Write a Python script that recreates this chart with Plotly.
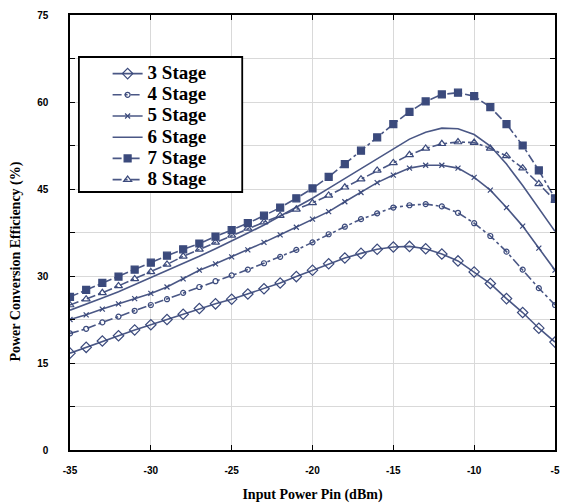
import plotly.graph_objects as go

pin = list(range(-35, -4))

stage3 = [16.7, 17.7, 18.8, 19.7, 20.7, 21.6, 22.5, 23.4, 24.4, 25.2, 26.0, 26.9, 27.8, 28.8, 29.9, 31.0,
          32.1, 33.1, 33.9, 34.6, 35.0, 35.1, 34.7, 33.8, 32.6, 30.7, 28.7, 26.1, 23.7, 21.0, 18.6]
stage4 = [20.1, 20.9, 22.0, 23.0, 24.0, 25.0, 26.0, 27.1, 28.1, 29.1, 30.1, 31.1, 32.2, 33.3, 34.5, 35.8,
          37.2, 38.5, 39.8, 40.8, 41.8, 42.2, 42.4, 42.0, 40.9, 39.1, 36.9, 34.2, 31.1, 27.9, 25.0]
stage5 = [22.5, 23.3, 24.3, 25.2, 26.1, 27.0, 28.1, 29.5, 31.0, 32.1, 33.3, 34.5, 35.8, 37.1, 38.4, 39.8,
          41.1, 42.8, 44.4, 46.1, 47.4, 48.6, 49.1, 49.1, 48.6, 47.0, 44.8, 41.8, 38.6, 34.8, 31.0]
stage6 = [24.1, 25.1, 26.2, 27.3, 28.5, 29.7, 30.9, 32.1, 33.4, 34.7, 36.0, 37.4, 38.8, 40.3, 41.8, 43.4,
          45.1, 46.8, 48.5, 50.3, 52.0, 53.6, 54.8, 55.5, 55.4, 54.4, 52.4, 49.3, 45.6, 41.7, 37.7]
stage7 = [26.4, 27.6, 28.8, 29.9, 31.1, 32.3, 33.5, 34.6, 35.6, 36.8, 37.9, 39.1, 40.4, 41.8, 43.4, 45.1,
          47.1, 49.3, 51.6, 53.9, 56.2, 58.3, 60.1, 61.3, 61.6, 61.0, 59.1, 56.2, 52.5, 48.2, 43.4]
stage8 = [25.0, 26.0, 27.1, 28.3, 29.5, 30.7, 32.0, 33.4, 34.6, 35.8, 37.0, 38.2, 39.3, 40.4, 41.5, 42.6,
          43.9, 45.3, 46.7, 48.2, 49.5, 50.9, 52.0, 52.8, 53.1, 53.0, 52.0, 50.7, 48.6, 45.9, 43.0]

names = ["3 Stage", "4 Stage", "5 Stage", "6 Stage", "7 Stage", "8 Stage"]
series = [stage3, stage4, stage5, stage6, stage7, stage8]
x_ticks = [-35, -30, -25, -20, -15, -10, -5]
y_ticks = [0, 15, 30, 45, 60, 75]
y_minor = [7.5, 22.5, 37.5, 52.5, 67.5]

LINE = "#4a5785"
MARK = "#3b4a7c"
styles = [
    dict(dash="solid", symbol="diamond-open", size=8, mode="lines+markers"),
    dict(dash="dashdot", symbol="circle-open", size=5, mode="lines+markers"),
    dict(dash="solid", symbol="x-thin-open", size=5, mode="lines+markers"),
    dict(dash="solid", symbol="circle", size=1, mode="lines"),
    dict(dash="dashdot", symbol="square", size=7, mode="lines+markers"),
    dict(dash="dashdot", symbol="triangle-up-open", size=7, mode="lines+markers"),
]

fig = go.Figure()
for name, ys, st in zip(names, series, styles):
    fig.add_trace(go.Scatter(
        x=pin, y=ys, name='<span style="font-size:19px">' + name + '</span>', mode=st["mode"],
        line=dict(color=LINE, width=1.6, dash=st["dash"]),
        marker=dict(symbol=st["symbol"], size=st["size"], color=MARK,
                    line=dict(color=MARK, width=1.2)),
    ))

axis_common = dict(
    showline=True, linecolor="black", linewidth=1.5, mirror="ticks",
    ticks="inside", ticklen=5, tickcolor="black",
    gridcolor="#d9d9d9", gridwidth=1, zeroline=False,
    tickfont=dict(family="Liberation Sans, Arial", size=10, color="black", weight="bold"),
)

fig.update_xaxes(
    range=[-35, -5], tickvals=x_ticks, ticktext=[str(v) for v in x_ticks],
    title=dict(text="Input Power Pin (dBm)", standoff=14,
               font=dict(family="Liberation Serif, Times New Roman", size=14, color="black", weight="bold")),
    ticklabelstandoff=10, ticklabeloverflow="allow",
    **axis_common,
)
fig.update_yaxes(
    range=[0, 75], tickvals=y_ticks,
    minor=dict(tickvals=y_minor, ticks="inside", ticklen=5,
               tickcolor="black", showgrid=True, gridcolor="#d9d9d9"),
    ticklabelstandoff=18,
    **axis_common,
)

title_font = dict(family="Liberation Serif, Times New Roman", size=14, color="black", weight="bold")
fig.add_annotation(text="Power Conversion Efficiency (%)", textangle=-90,
                   xref="paper", yref="paper", x=-55 / 490, y=(450 - 262) / 435,
                   xanchor="center", yanchor="middle", showarrow=False, font=title_font)

# legend frame
fig.add_shape(type="rect", xref="paper", yref="paper",
              x0=(79 - 70) / 490, x1=(244 - 70) / 490,
              y0=(450 - 192) / 435, y1=(450 - 57) / 435,
              line=dict(color="black", width=1.8), fillcolor="white", layer="above")

fig.update_layout(
    width=562, height=503,
    margin=dict(l=70, r=2, t=15, b=53),
    paper_bgcolor="white", plot_bgcolor="white",
    showlegend=True,
    legend=dict(x=(108 - 70) / 490, y=(450 - 58) / 435, xanchor="left", yanchor="top",
                borderwidth=0, bgcolor="rgba(0,0,0,0)",
                font=dict(family="Liberation Serif, Times New Roman", size=14, color="black", weight="bold"),
                itemwidth=30, tracegroupgap=0, traceorder="normal"),
)

fig.write_html("out.html")
